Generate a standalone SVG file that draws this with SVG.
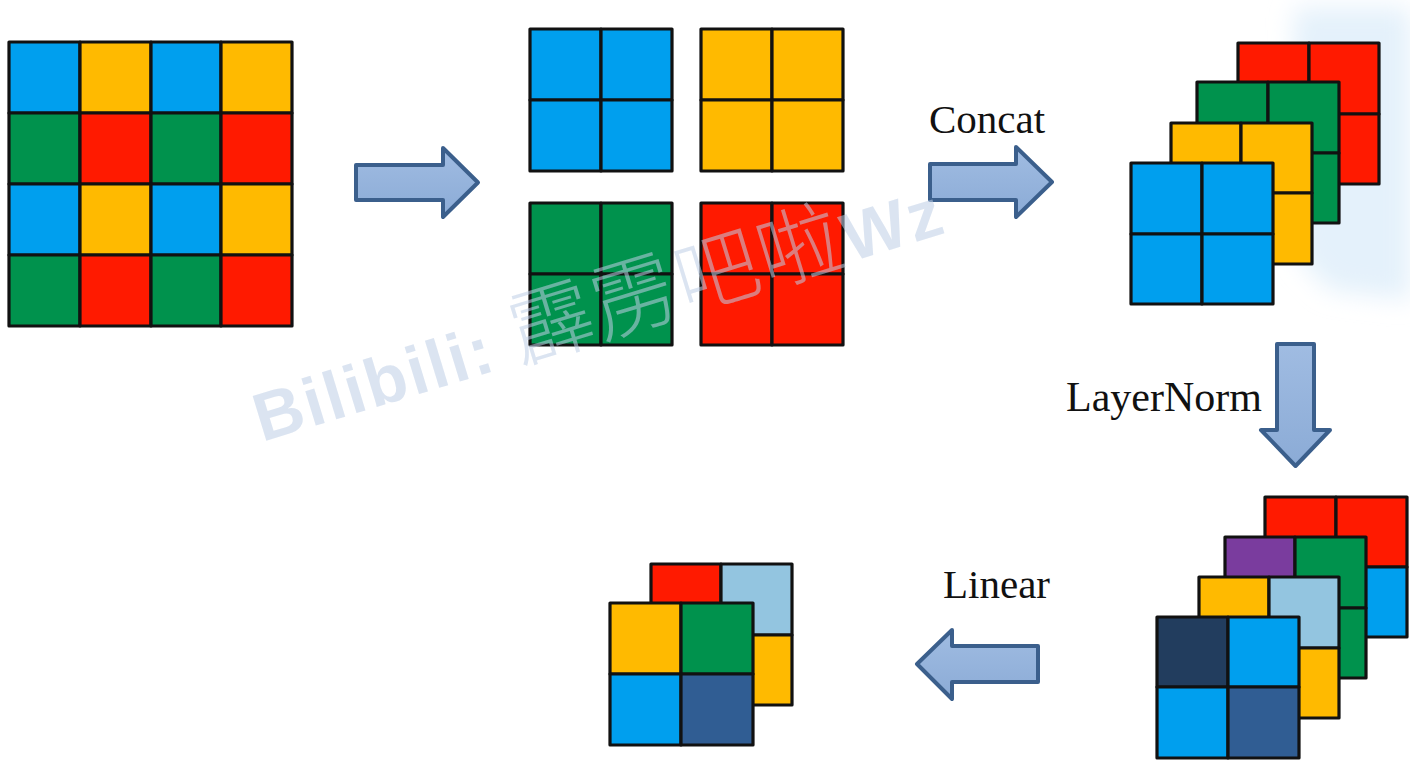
<svg xmlns="http://www.w3.org/2000/svg" width="1410" height="764" viewBox="0 0 1410 764">
<style>
.c{stroke:#111;stroke-width:3.2;stroke-linejoin:round}
.B{fill:#009FEE}.Y{fill:#FFBA00}.G{fill:#00924D}.R{fill:#FF1A00}
.P{fill:#7A3C9E}.L{fill:#93C5E0}.N{fill:#223D5E}.S{fill:#305D93}
.arr{fill:url(#ag);stroke:#3B5F8C;stroke-width:4;stroke-linejoin:round}
.lbl{font-family:"Liberation Serif","Times New Roman",serif;font-size:41px;fill:#111}
.wm{fill:#BFCFE6;opacity:0.55;font-family:"Liberation Sans","Noto Sans CJK SC",sans-serif}
</style>
<defs>
<linearGradient id="ag" x1="0" y1="0" x2="0" y2="1">
<stop offset="0" stop-color="#A0BCE2"/>
<stop offset="1" stop-color="#8BABD6"/>
</linearGradient>
<filter id="blur" x="-0.5" y="-0.5" width="2" height="2"><feGaussianBlur stdDeviation="12"/></filter>
</defs>
<rect width="1410" height="764" fill="#FFFFFF"/>
<path d="M1295,8 L1410,8 L1410,300 L1330,290 L1300,260 L1290,200 Z" fill="#E4F1FB" filter="url(#blur)"/>

<g id="input-grid">
<rect class="c B" x="9" y="42" width="71" height="71"/>
<rect class="c Y" x="80" y="42" width="71" height="71"/>
<rect class="c B" x="151" y="42" width="70" height="71"/>
<rect class="c Y" x="221" y="42" width="71" height="71"/>
<rect class="c G" x="9" y="113" width="71" height="71"/>
<rect class="c R" x="80" y="113" width="71" height="71"/>
<rect class="c G" x="151" y="113" width="70" height="71"/>
<rect class="c R" x="221" y="113" width="71" height="71"/>
<rect class="c B" x="9" y="184" width="71" height="71"/>
<rect class="c Y" x="80" y="184" width="71" height="71"/>
<rect class="c B" x="151" y="184" width="70" height="71"/>
<rect class="c Y" x="221" y="184" width="71" height="71"/>
<rect class="c G" x="9" y="255" width="71" height="71"/>
<rect class="c R" x="80" y="255" width="71" height="71"/>
<rect class="c G" x="151" y="255" width="70" height="71"/>
<rect class="c R" x="221" y="255" width="71" height="71"/>
</g>

<g id="split-blue">
<rect class="c B" x="530" y="29" width="71" height="71"/>
<rect class="c B" x="601" y="29" width="71" height="71"/>
<rect class="c B" x="530" y="100" width="71" height="71"/>
<rect class="c B" x="601" y="100" width="71" height="71"/>
</g>
<g id="split-yellow">
<rect class="c Y" x="701" y="29" width="71" height="71"/>
<rect class="c Y" x="772" y="29" width="71" height="71"/>
<rect class="c Y" x="701" y="100" width="71" height="71"/>
<rect class="c Y" x="772" y="100" width="71" height="71"/>
</g>
<g id="split-green">
<rect class="c G" x="530" y="203" width="71" height="71"/>
<rect class="c G" x="601" y="203" width="71" height="71"/>
<rect class="c G" x="530" y="274" width="71" height="71"/>
<rect class="c G" x="601" y="274" width="71" height="71"/>
</g>
<g id="split-red">
<rect class="c R" x="701" y="203" width="71" height="71"/>
<rect class="c R" x="772" y="203" width="71" height="71"/>
<rect class="c R" x="701" y="274" width="71" height="71"/>
<rect class="c R" x="772" y="274" width="71" height="71"/>
</g>

<g id="concat-stack">
<rect class="c R" x="1238" y="43" width="71" height="71"/>
<rect class="c R" x="1309" y="43" width="70" height="71"/>
<rect class="c R" x="1238" y="114" width="71" height="70"/>
<rect class="c R" x="1309" y="114" width="70" height="70"/>
<rect class="c G" x="1197" y="82" width="71" height="71"/>
<rect class="c G" x="1268" y="82" width="71" height="71"/>
<rect class="c G" x="1197" y="153" width="71" height="70"/>
<rect class="c G" x="1268" y="153" width="71" height="70"/>
<rect class="c Y" x="1171" y="123" width="70" height="70"/>
<rect class="c Y" x="1241" y="123" width="71" height="70"/>
<rect class="c Y" x="1171" y="193" width="70" height="71"/>
<rect class="c Y" x="1241" y="193" width="71" height="71"/>
<rect class="c B" x="1131" y="163" width="71" height="71"/>
<rect class="c B" x="1202" y="163" width="71" height="71"/>
<rect class="c B" x="1131" y="234" width="71" height="70"/>
<rect class="c B" x="1202" y="234" width="71" height="70"/>
</g>

<g id="norm-stack">
<rect class="c R" x="1265" y="497" width="71" height="70"/>
<rect class="c R" x="1336" y="497" width="71" height="70"/>
<rect class="c R" x="1265" y="567" width="71" height="70"/>
<rect class="c B" x="1336" y="567" width="71" height="70"/>
<rect class="c P" x="1225" y="537" width="70" height="71"/>
<rect class="c G" x="1295" y="537" width="71" height="71"/>
<rect class="c G" x="1225" y="608" width="70" height="70"/>
<rect class="c G" x="1295" y="608" width="71" height="70"/>
<rect class="c Y" x="1199" y="577" width="70" height="71"/>
<rect class="c L" x="1269" y="577" width="70" height="71"/>
<rect class="c Y" x="1199" y="648" width="70" height="70"/>
<rect class="c Y" x="1269" y="648" width="70" height="70"/>
<rect class="c N" x="1157" y="617" width="71" height="70"/>
<rect class="c B" x="1228" y="617" width="71" height="70"/>
<rect class="c B" x="1157" y="687" width="71" height="71"/>
<rect class="c S" x="1228" y="687" width="71" height="71"/>
</g>

<g id="linear-output">
<rect class="c R" x="651" y="564" width="70" height="71"/>
<rect class="c L" x="721" y="564" width="71" height="71"/>
<rect class="c R" x="651" y="635" width="70" height="70"/>
<rect class="c Y" x="721" y="635" width="71" height="70"/>
<rect class="c Y" x="610" y="603" width="71" height="71"/>
<rect class="c G" x="681" y="603" width="72" height="71"/>
<rect class="c B" x="610" y="674" width="71" height="71"/>
<rect class="c S" x="681" y="674" width="72" height="71"/>
</g>

<g id="connectors">
<polygon class="arr" points="356,165 443,165 443,148 478,182.5 443,217 443,200 356,200"/>
<polygon class="arr" points="930,164 1016,164 1016,147 1052,182 1016,217 1016,200 930,200"/>
<polygon class="arr" points="1277,344 1314,344 1314,430 1330,430 1295.5,466 1261,430 1277,430"/>
<polygon class="arr" points="1038,646 952,646 952,630 917,664 952,699 952,682 1038,682"/>
<text class="lbl" x="929" y="133">Concat</text>
<text class="lbl" x="1066" y="411" style="font-size:42px">LayerNorm</text>
<text class="lbl" x="943" y="598">Linear</text>
</g>

<g id="watermark" transform="rotate(-17 262 442)">
<text class="wm" x="262" y="442" textLength="716" lengthAdjust="spacing"><tspan font-weight="bold" font-size="68">Bilibili: </tspan><tspan font-size="84" font-family="'Noto Sans CJK SC',sans-serif" font-weight="300">霹雳吧啦</tspan><tspan font-weight="bold" font-size="68">Wz</tspan></text>
</g>
</svg>
